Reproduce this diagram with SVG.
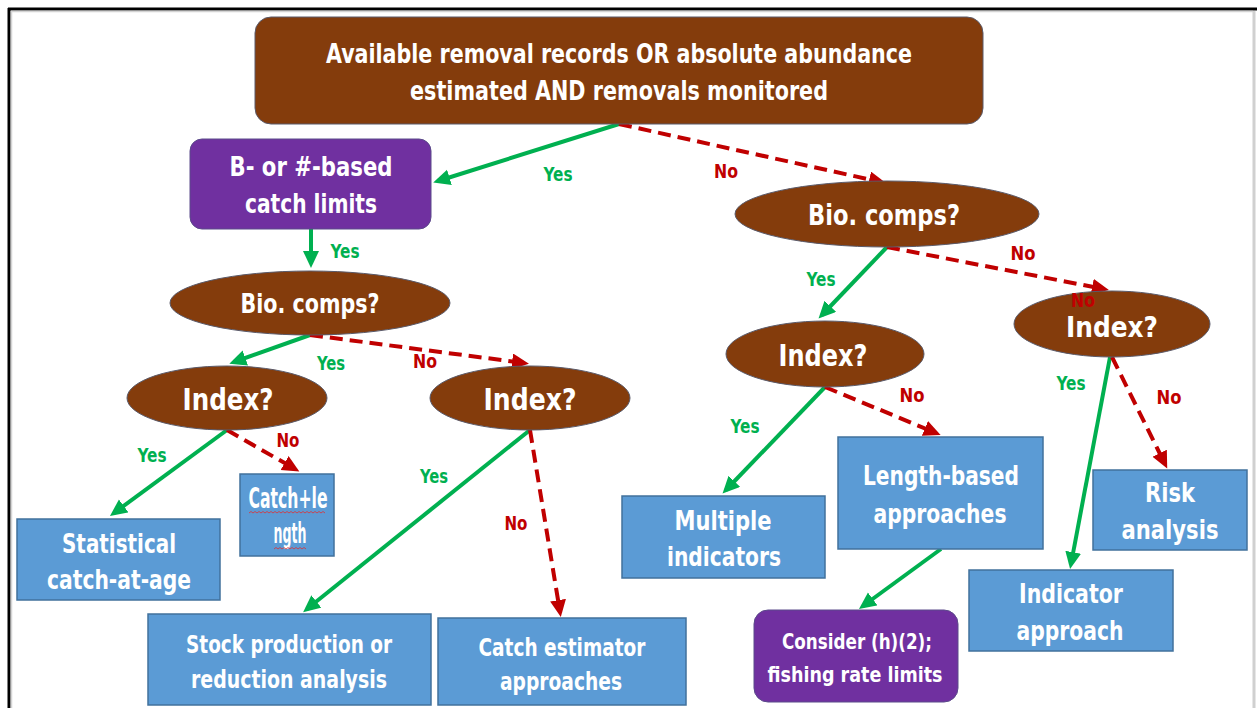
<svg xmlns="http://www.w3.org/2000/svg" width="1257" height="708" viewBox="0 0 1257 708">
<defs>
<style>
.t{font-family:"DejaVu Sans Condensed","DejaVu Sans","Liberation Sans",sans-serif;font-weight:bold;fill:#fff;text-anchor:middle}
.brown{fill:#843C0C;stroke:#5a5a6a;stroke-width:1}
.purple{fill:#7030A0;stroke:#5b4a8a;stroke-width:1}
.blue{fill:#5B9BD5;stroke:#41719C;stroke-width:1.5}
.yes{stroke:#00B050;stroke-width:4;fill:none;marker-end:url(#ag)}
.no{stroke:#C00000;stroke-width:4;fill:none;stroke-dasharray:13 7;marker-end:url(#ar)}
.ly{font-family:"DejaVu Sans Condensed","DejaVu Sans",sans-serif;font-weight:bold;font-size:19px;fill:#00B050;text-anchor:middle}
.ln{font-family:"DejaVu Sans Condensed","DejaVu Sans",sans-serif;font-weight:bold;font-size:19px;fill:#C00000;text-anchor:middle}
</style>
<marker id="ag" markerUnits="userSpaceOnUse" markerWidth="20" markerHeight="18" refX="12" refY="8" orient="auto"><path d="M0,0 L17,8 L0,16 z" fill="#00B050"/></marker>
<marker id="ar" markerUnits="userSpaceOnUse" markerWidth="20" markerHeight="18" refX="12" refY="8" orient="auto"><path d="M0,0 L17,8 L0,16 z" fill="#C00000"/></marker>
</defs>
<rect width="1257" height="708" fill="#fff"/>
<g id="frame">
<line x1="8" y1="9" x2="1257" y2="9" stroke="#000" stroke-width="3"/>
<line x1="9" y1="8" x2="9" y2="708" stroke="#000" stroke-width="3"/>
<line x1="11" y1="11.5" x2="1253" y2="11.5" stroke="#d4d4d4" stroke-width="1.5"/>
<line x1="11.5" y1="11" x2="11.5" y2="708" stroke="#d4d4d4" stroke-width="1.5"/>
<line x1="1254" y1="11" x2="1254" y2="708" stroke="#d0d0d0" stroke-width="3"/>
</g>
<g id="connectors">
<path class="yes" d="M619,124 L438,181"/>
<path class="yes" d="M311,229 L311,263"/>
<path class="yes" d="M310,335 L234,362"/>
<path class="yes" d="M227,430 L114,513"/>
<path class="yes" d="M530,430 L307,609"/>
<path class="yes" d="M887,247 L822,315"/>
<path class="yes" d="M825,387 L726,490"/>
<path class="yes" d="M1110,357 L1071,564"/>
<path class="yes" d="M941,549 L863,606"/>
<path class="no" d="M619,124 L881,182"/>
<path class="no" d="M310,335 L524,363"/>
<path class="no" d="M227,430 L295,469"/>
<path class="no" d="M530,430 L560,612"/>
<path class="no" d="M887,247 L1104,289"/>
<path class="no" d="M825,387 L936,433"/>
<path class="no" d="M1112,357 L1165,464"/>
</g>
<g id="n-top">
<rect class="brown" x="255" y="17" width="728" height="107" rx="16"/>
<text class="t" x="619" y="63" font-size="26" textLength="586" lengthAdjust="spacingAndGlyphs">Available removal records OR absolute abundance</text>
<text class="t" x="619" y="100" font-size="26" textLength="418" lengthAdjust="spacingAndGlyphs">estimated AND removals monitored</text>
</g>
<g id="n-catchlimits">
<rect class="purple" x="190" y="139" width="241" height="90" rx="12"/>
<text class="t" x="311" y="176" font-size="26" textLength="163" lengthAdjust="spacingAndGlyphs">B- or #-based</text>
<text class="t" x="311" y="213" font-size="26" textLength="132" lengthAdjust="spacingAndGlyphs">catch limits</text>
</g>
<g id="n-bio-left">
<ellipse class="brown" cx="310" cy="303" rx="140" ry="32"/>
<text class="t" x="310" y="313" font-size="26" textLength="139" lengthAdjust="spacingAndGlyphs">Bio. comps?</text>
</g>
<g id="n-index-left">
<ellipse class="brown" cx="227" cy="398" rx="100" ry="32"/>
<text class="t" x="228" y="410" font-size="30" textLength="91" lengthAdjust="spacingAndGlyphs">Index?</text>
</g>
<g id="n-index-mid">
<ellipse class="brown" cx="530" cy="398" rx="100" ry="32"/>
<text class="t" x="530" y="410" font-size="30" textLength="93" lengthAdjust="spacingAndGlyphs">Index?</text>
</g>
<g id="n-bio-right">
<ellipse class="brown" cx="887" cy="214" rx="152" ry="33"/>
<text class="t" x="884" y="225" font-size="28" textLength="152" lengthAdjust="spacingAndGlyphs">Bio. comps?</text>
</g>
<g id="n-index-rmid">
<ellipse class="brown" cx="825" cy="354" rx="99" ry="33"/>
<text class="t" x="823" y="366" font-size="30" textLength="89" lengthAdjust="spacingAndGlyphs">Index?</text>
</g>
<g id="n-index-right">
<ellipse class="brown" cx="1112" cy="324" rx="98" ry="33"/>
<text class="t" x="1112" y="337" font-size="29" textLength="92" lengthAdjust="spacingAndGlyphs">Index?</text>
</g>
<g id="n-statistical">
<rect class="blue" x="17" y="519" width="203" height="81"/>
<text class="t" x="119" y="553" font-size="26" textLength="114" lengthAdjust="spacingAndGlyphs">Statistical</text>
<text class="t" x="119" y="589" font-size="26" textLength="144" lengthAdjust="spacingAndGlyphs">catch-at-age</text>
</g>
<g id="n-catchlength">
<rect class="blue" x="240" y="474" width="94" height="82"/>
<text class="t" x="288" y="508" font-size="28" textLength="79" lengthAdjust="spacingAndGlyphs">Catch+le</text>
<text class="t" x="290" y="543" font-size="28" textLength="33" lengthAdjust="spacingAndGlyphs">ngth</text>
<path d="M249,513 l2,-1.5 l2,1.5 l2,-1.5 l2,1.5 l2,-1.5 l2,1.5 l2,-1.5 l2,1.5 l2,-1.5 l2,1.5 l2,-1.5 l2,1.5 l2,-1.5 l2,1.5 l2,-1.5 l2,1.5 l2,-1.5 l2,1.5 l2,-1.5 l2,1.5 l2,-1.5 l2,1.5 l2,-1.5 l2,1.5 l2,-1.5 l2,1.5 l2,-1.5 l2,1.5 l2,-1.5 l2,1.5 l2,-1.5 l2,1.5 l2,-1.5 l2,1.5 l2,-1.5 l2,1.5 l2,-1.5 l2,1.5" fill="none" stroke="#e03030" stroke-width="0.8"/>
<path d="M274,549 l2,-1.5 l2,1.5 l2,-1.5 l2,1.5 l2,-1.5 l2,1.5 l2,-1.5 l2,1.5 l2,-1.5 l2,1.5 l2,-1.5 l2,1.5 l2,-1.5 l2,1.5 l2,-1.5 l2,1.5" fill="none" stroke="#e03030" stroke-width="0.8"/>
</g>
<g id="n-stockprod">
<rect class="blue" x="148" y="614" width="283" height="91"/>
<text class="t" x="289" y="653" font-size="25" textLength="206" lengthAdjust="spacingAndGlyphs">Stock production or</text>
<text class="t" x="289" y="688" font-size="25" textLength="196" lengthAdjust="spacingAndGlyphs">reduction analysis</text>
</g>
<g id="n-catchest">
<rect class="blue" x="438" y="618" width="248" height="87"/>
<text class="t" x="562" y="656" font-size="25" textLength="167" lengthAdjust="spacingAndGlyphs">Catch estimator</text>
<text class="t" x="561" y="690" font-size="25" textLength="122" lengthAdjust="spacingAndGlyphs">approaches</text>
</g>
<g id="n-multiple">
<rect class="blue" x="622" y="496" width="203" height="82"/>
<text class="t" x="723" y="530" font-size="26" textLength="97" lengthAdjust="spacingAndGlyphs">Multiple</text>
<text class="t" x="724" y="566" font-size="26" textLength="114" lengthAdjust="spacingAndGlyphs">indicators</text>
</g>
<g id="n-lengthbased">
<rect class="blue" x="838" y="437" width="205" height="112"/>
<text class="t" x="941" y="485" font-size="26" textLength="156" lengthAdjust="spacingAndGlyphs">Length-based</text>
<text class="t" x="940" y="523" font-size="26" textLength="133" lengthAdjust="spacingAndGlyphs">approaches</text>
</g>
<g id="n-consider">
<rect class="purple" x="754" y="610" width="204" height="92" rx="14"/>
<text class="t" x="857" y="649" font-size="22" textLength="150" lengthAdjust="spacingAndGlyphs">Consider (h)(2);</text>
<text class="t" x="855" y="682" font-size="22" textLength="175" lengthAdjust="spacingAndGlyphs">fishing rate limits</text>
</g>
<g id="n-indicator">
<rect class="blue" x="969" y="570" width="204" height="81"/>
<text class="t" x="1071" y="603" font-size="26" textLength="104" lengthAdjust="spacingAndGlyphs">Indicator</text>
<text class="t" x="1070" y="640" font-size="26" textLength="107" lengthAdjust="spacingAndGlyphs">approach</text>
</g>
<g id="n-risk">
<rect class="blue" x="1093" y="470" width="154" height="80"/>
<text class="t" x="1170" y="502" font-size="26" textLength="50" lengthAdjust="spacingAndGlyphs">Risk</text>
<text class="t" x="1170" y="539" font-size="26" textLength="97" lengthAdjust="spacingAndGlyphs">analysis</text>
</g>
<g id="labels">
<text class="ly" x="558" y="181" textLength="29" lengthAdjust="spacingAndGlyphs">Yes</text>
<text class="ln" x="726" y="178" textLength="24" lengthAdjust="spacingAndGlyphs">No</text>
<text class="ly" x="345" y="258" textLength="29" lengthAdjust="spacingAndGlyphs">Yes</text>
<text class="ly" x="331" y="370" textLength="28" lengthAdjust="spacingAndGlyphs">Yes</text>
<text class="ln" x="425" y="368" textLength="24" lengthAdjust="spacingAndGlyphs">No</text>
<text class="ly" x="152" y="462" textLength="29" lengthAdjust="spacingAndGlyphs">Yes</text>
<text class="ln" x="288" y="447" textLength="23" lengthAdjust="spacingAndGlyphs">No</text>
<text class="ly" x="434" y="483" textLength="28" lengthAdjust="spacingAndGlyphs">Yes</text>
<text class="ln" x="516" y="530" textLength="23" lengthAdjust="spacingAndGlyphs">No</text>
<text class="ln" x="1023" y="260" textLength="25" lengthAdjust="spacingAndGlyphs">No</text>
<text class="ly" x="821" y="286" textLength="29" lengthAdjust="spacingAndGlyphs">Yes</text>
<text class="ln" x="1083" y="307" font-size="18" textLength="24" lengthAdjust="spacingAndGlyphs">No</text>
<text class="ln" x="912" y="402" textLength="25" lengthAdjust="spacingAndGlyphs">No</text>
<text class="ly" x="745" y="433" textLength="29" lengthAdjust="spacingAndGlyphs">Yes</text>
<text class="ly" x="1071" y="390" textLength="29" lengthAdjust="spacingAndGlyphs">Yes</text>
<text class="ln" x="1169" y="404" textLength="25" lengthAdjust="spacingAndGlyphs">No</text>
</g>
</svg>
